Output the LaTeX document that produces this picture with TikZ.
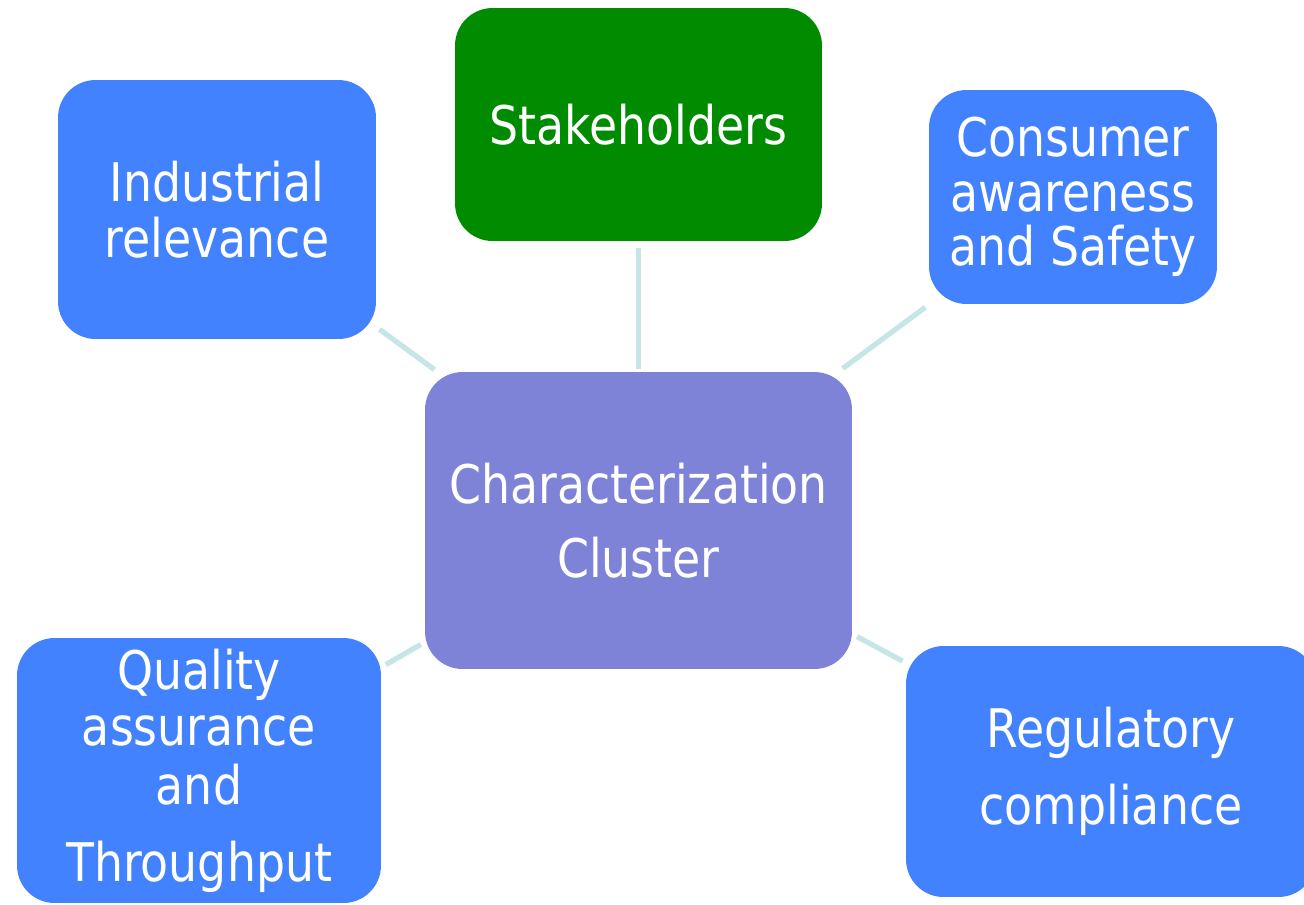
\documentclass[tikz,border=0pt]{standalone}
\usepackage{fontspec}
\setmainfont{DejaVu Sans}[FakeStretch=0.86]

\definecolor{boxblue}{RGB}{66,130,255}
\definecolor{boxgreen}{RGB}{0,139,0}
\definecolor{boxlilac}{RGB}{127,131,216}
\definecolor{linkcyan}{RGB}{198,230,230}

\begin{document}
\begin{tikzpicture}[
    x=0.02cm, y=-0.02cm,
    topic/.style={rounded corners=0.75cm, inner sep=0pt, text=white, align=center,
        font=\fontsize{30.3pt}{31pt}\selectfont},
    link/.style={draw=linkcyan, line width=3pt},
]
    \clip (0, 0) rectangle (1304, 904);

    % Hub
    \node[topic, fill=boxlilac, minimum width=8.54cm, minimum height=5.94cm]
        (cluster) at (638.5, 520.5) {Characterization\\[11pt]Cluster};

    % Surrounding topics
    \node[topic, fill=boxgreen, minimum width=7.34cm, minimum height=4.66cm]
        (stake) at (638.5, 124.5) {Stakeholders};
    \node[topic, fill=boxblue, minimum width=6.36cm, minimum height=5.18cm]
        (indus) at (217, 209.5) {Industrial\\[0.5pt]relevance};
    \node[topic, fill=boxblue, minimum width=5.76cm, minimum height=4.28cm]
        (consum) at (1073, 197) {Consumer\\awareness\\and Safety};
    \node[topic, fill=boxblue, minimum width=7.28cm, minimum height=5.3cm]
        (quality) at (199, 770.5) {Quality\\[1pt]assurance\\[2.5pt]and\\[13pt]Throughput};
    \node[topic, fill=boxblue, minimum width=8.2cm, minimum height=5.02cm]
        (regul) at (1111, 771.5) {Regulatory\\[13pt]compliance};

    % Links
    \draw[link, shorten <=1.7pt, shorten >=4pt] (cluster) -- (stake);
    \draw[link, shorten <=2pt, shorten >=2.3pt] (cluster) -- (indus);
    \draw[link, shorten <=3pt, shorten >=2.8pt] (cluster) -- (consum);
    \draw[link, shorten <=2.5pt, shorten >=3pt] (cluster) -- (quality);
    \draw[link, shorten <=3pt, shorten >=2pt] (cluster) -- (regul);
\end{tikzpicture}
\end{document}
